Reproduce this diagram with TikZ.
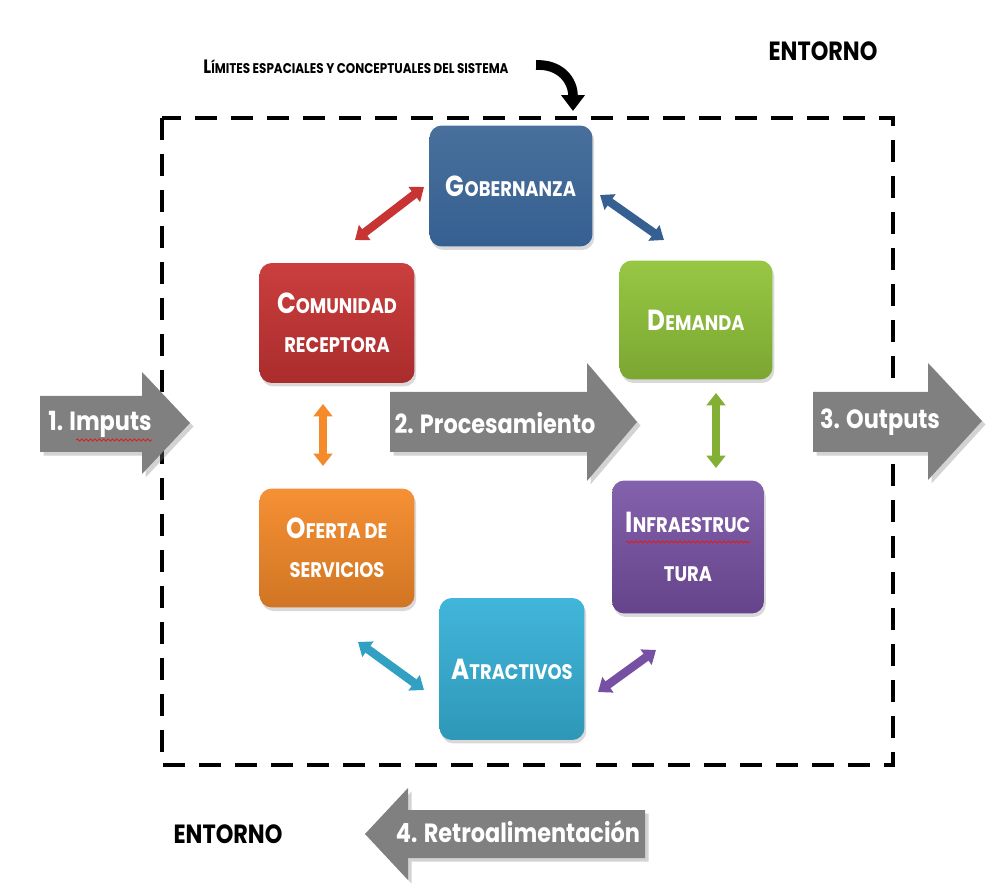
\documentclass[tikz,border=0pt]{standalone}
\usepackage{fontspec}
\setmainfont{Poppins}[FakeStretch=0.85]
\usepackage{xcolor}
\definecolor{gobblue}{RGB}{53,96,145}
\definecolor{comred}{RGB}{200,52,52}
\definecolor{demgreen}{RGB}{145,196,58}
\definecolor{ofeorange}{RGB}{245,138,42}
\definecolor{infpurple}{RGB}{118,80,163}
\definecolor{atrcyan}{RGB}{55,178,216}
\definecolor{arrowgray}{RGB}{128,128,128}
\definecolor{spellred}{RGB}{220,30,30}
\usepackage{tikz}
\usetikzlibrary{positioning}
\usetikzlibrary{arrows.meta}
\usetikzlibrary{shadows}
\usetikzlibrary{decorations.pathmorphing}
\newcommand\firstcap[2]{{\fontsize{16.5}{18}\selectfont #1}#2}
\tikzset{
  sysbox/.style={rounded corners=7pt,minimum width=#1,text=white,align=center,
    font=\bfseries\fontsize{12}{22}\selectfont,
    drop shadow={opacity=0.3,shadow xshift=1pt,shadow yshift=-2pt}},
  bigarrow/.style={fill=arrowgray,drop shadow={opacity=0.35,shadow xshift=2pt,shadow yshift=-2pt}},
  arrowtext/.style={text=white,font=\bfseries\fontsize{15}{18}\selectfont},
  dblarrow/.style={line width=4.8pt,arrows={Triangle[width=10.5pt,length=7pt]-Triangle[width=10.5pt,length=7pt]}},
  entorno/.style={font=\bfseries\fontsize{15}{18}\selectfont},
  spell/.style={spellred,line width=0.5pt,decorate,decoration={snake,amplitude=0.6pt,segment length=2.5pt}}
}
\begin{document}
\begin{tikzpicture}[x=0.02cm,y=-0.02cm]
\useasboundingbox (0,0) rectangle (994,884);
% system limits
\draw[line width=2.8pt,dash pattern=on 12.5pt off 8pt] (162,118) rectangle (893,765);
\node (limites) at (356,67) [font=\bfseries\fontsize{8}{10}\selectfont]{{\fontsize{11}{12}\selectfont L}ÍMITES ESPACIALES Y CONCEPTUALES DEL SISTEMA};
\coordinate (curvestart) at (536,65);
\coordinate (curveend) at (573,111);
\draw[line width=5.5pt,arrows={-Triangle[width=13pt,length=9pt]}] (curvestart) .. controls (560,64) and (573,80) .. (curveend);
\node (entornoup) at (823,51) [entorno]{ENTORNO};
\node (entornodown) at (228,834) [entorno]{ENTORNO};
% subsystems
\node (gob) at (511,186) [sysbox=3.26cm,minimum height=2.42cm,top color=gobblue!90!white,bottom color=gobblue]{\firstcap{G}{OBERNANZA}};
\node (com) at (337,323) [sysbox=3.1cm,minimum height=2.4cm,top color=comred!95!white,bottom color=comred!85!black]{\firstcap{C}{OMUNIDAD}\\RECEPTORA};
\node (dem) at (696,320) [sysbox=3.06cm,minimum height=2.38cm,top color=demgreen!95!white,bottom color=demgreen!85!black]{\firstcap{D}{EMANDA}};
\node (ofe) at (337,548) [sysbox=3.1cm,minimum height=2.38cm,top color=ofeorange!95!white,bottom color=ofeorange!85!black]{\firstcap{O}{FERTA DE}\\SERVICIOS};
\node (inf) at (688,547) [sysbox=3.04cm,minimum height=2.66cm,top color=infpurple!90!white,bottom color=infpurple!85!black,font=\bfseries\fontsize{12}{28}\selectfont]{\firstcap{I}{NFRAESTRUC}\\TURA};
\node (atr) at (512,669) [sysbox=2.9cm,minimum height=2.84cm,top color=atrcyan!95!white,bottom color=atrcyan!85!black]{\firstcap{A}{TRACTIVOS}};
% links between subsystems
\coordinate (gobcomA) at (424,187);
\coordinate (gobcomB) at (355,240);
\coordinate (gobdemA) at (600,195);
\coordinate (gobdemB) at (664,240);
\coordinate (comofeA) at (323,404);
\coordinate (comofeB) at (323,466);
\coordinate (deminfA) at (716,393);
\coordinate (deminfB) at (716,468);
\coordinate (ofeatrA) at (358,642);
\coordinate (ofeatrB) at (424,690);
\coordinate (atrinfA) at (598,692);
\coordinate (atrinfB) at (656,650);
\draw[dblarrow,comred] (gobcomA) -- (gobcomB);
\draw[dblarrow,gobblue] (gobdemA) -- (gobdemB);
\draw[dblarrow,ofeorange] (comofeA) -- (comofeB);
\draw[dblarrow,demgreen!90!black] (deminfA) -- (deminfB);
\draw[dblarrow,atrcyan!90!black] (ofeatrA) -- (ofeatrB);
\draw[dblarrow,infpurple] (atrinfA) -- (atrinfB);
% process arrows
\fill[bigarrow] (40,396) -- (142,396) -- (142,372) -- (190,423) -- (142,474) -- (142,452) -- (40,452) -- cycle;
\fill[bigarrow] (390,392) -- (587,392) -- (587,363) -- (637,422) -- (587,481) -- (587,452) -- (390,452) -- cycle;
\fill[bigarrow] (813,392) -- (928,392) -- (928,363) -- (982,421) -- (928,480) -- (928,452) -- (813,452) -- cycle;
\fill[bigarrow] (645,810) -- (408,810) -- (408,788) -- (365,834) -- (408,880) -- (408,858) -- (645,858) -- cycle;
\node (imputs) at (100,424) [arrowtext]{1. Imputs};
\node (procesamiento) at (495,423) [arrowtext]{2. Procesamiento};
\node (outputs) at (880,422) [arrowtext]{3. Outputs};
\node (retro) at (518,832) [arrowtext]{4. Retroalimentación};
% spelling marks
\draw[spell] (76,440) -- (152,440);
\draw[spell] (626,542) -- (750,542);
\end{tikzpicture}
\end{document}
